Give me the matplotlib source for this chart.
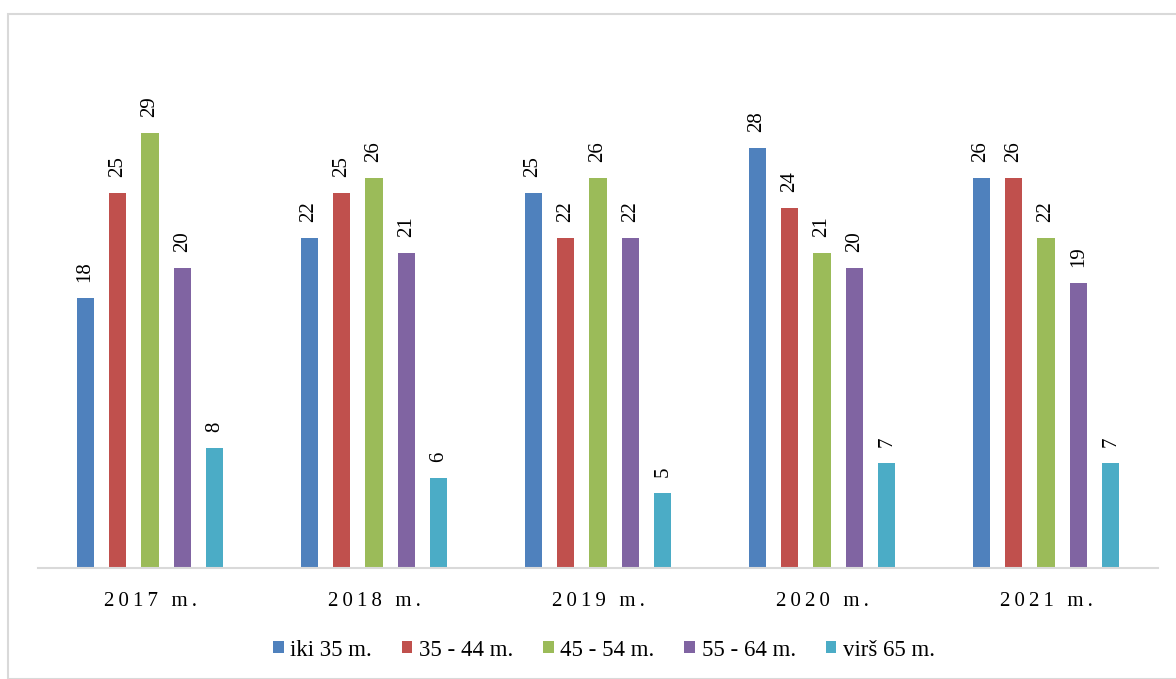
import matplotlib.pyplot as plt
import numpy as np
from matplotlib.patches import Rectangle

# === data ===
years = ["2017 m.", "2018 m.", "2019 m.", "2020 m.", "2021 m."]
series = ["iki 35 m.", "35 - 44 m.", "45 - 54 m.", "55 - 64 m.", "virš 65 m."]
iki35 = [18, 22, 25, 28, 26]
m35_44 = [25, 25, 22, 24, 26]
m45_54 = [29, 26, 26, 21, 22]
m55_64 = [20, 21, 22, 20, 19]
virs65 = [8, 6, 5, 7, 7]
values = [iki35, m35_44, m45_54, m55_64, virs65]
colors = ["#4F81BD", "#C0504D", "#9BBB59", "#8064A2", "#4BACC6"]

plt.rcParams['font.family'] = ['Liberation Serif', 'DejaVu Serif']

W, H = 1176, 679
fig = plt.figure(figsize=(W / 100, H / 100), dpi=100)
# axes in pixel coords: x 38..1158, y 40..568
ax = fig.add_axes([38 / W, 1 - 568 / H, 1120 / W, 528 / H])

x = np.arange(len(years))
pitch = 0.145
width = 0.076
for i, (name, vals, c) in enumerate(zip(series, values, colors)):
    pos = x + (i - 2) * pitch
    bars = ax.bar(pos, vals, width, color=c, label=name)
    for b, v in zip(bars, vals):
        ax.annotate(str(v), (b.get_x() + b.get_width() / 2, v), xytext=(0, 11.5),
                    textcoords="offset points", rotation=90, ha="center", va="bottom",
                    fontsize=15)

ax.set_xlim(-0.5, 4.5)
ax.set_ylim(0, 35.2)
ax.set_yticks([])
ax.set_xticks(x)
ax.set_xticklabels(["\u2009".join(list(y)) for y in years], fontsize=15)
ax.tick_params(axis="x", length=0, pad=17)
for s in ["top", "right", "left"]:
    ax.spines[s].set_visible(False)
ax.spines["bottom"].set_color("#d9d9d9")
ax.spines["bottom"].set_linewidth(1.5)

# outer chart border
fig.patches.append(Rectangle((8 / W, 0), 1.2, 1 - 14 / H, transform=fig.transFigure,
                             fill=False, edgecolor="#d9d9d9", linewidth=1.5))

fig.legend(*ax.get_legend_handles_labels(), loc="center", bbox_to_anchor=(604 / W, 1 - 650 / H),
           ncol=5, frameon=False, fontsize=16.5, handlelength=0.45, handleheight=0.45,
           handletextpad=0.3, columnspacing=1.3)

plt.savefig("out.png", dpi=100)
